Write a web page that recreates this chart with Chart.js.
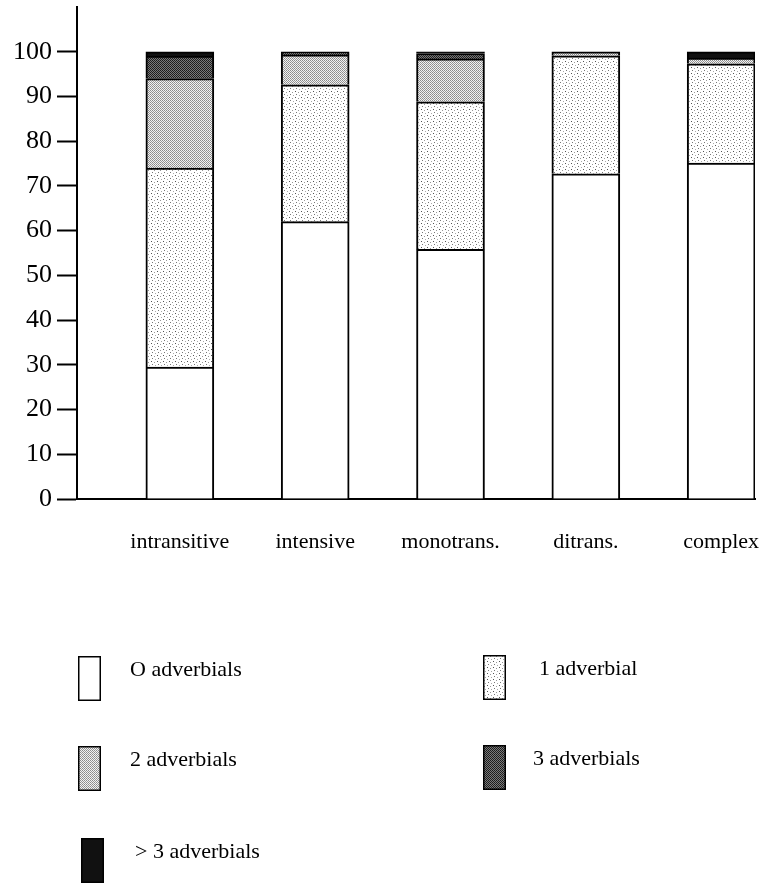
<!DOCTYPE html>
<html lang="en">
<head>
    <meta charset="UTF-8">
    <title>Adverbials per clause type</title>
    <script src="https://cdn.jsdelivr.net/npm/chart.js@4.4.0"></script>
    <style>
        html, body { margin: 0; padding: 0; background: #fff; }
        .chart-box { position: relative; width: 762px; height: 883px; }
    </style>
</head>
<body>
    <div class="chart-box">
        <canvas id="advChart"></canvas>
    </div>

    <script>
        // categories and series (percent of clauses)
        const categories = ['intransitive', 'intensive', 'monotrans.', 'ditrans.', 'complex'];
        const zeroAdv  = [29.5, 62.0, 55.8, 72.7, 75.1];
        const oneAdv   = [44.5, 30.6, 33.0, 26.4, 22.2];
        const twoAdv   = [20.0, 6.7, 9.6, 0.9, 1.3];
        const threeAdv = [5.0, 0.7, 1.2, 0, 0];
        const moreAdv  = [1.0, 0, 0.4, 0, 1.4];
        const seriesNames = ['O adverbials', '1 adverbial', '2 adverbials', '3 adverbials', '> 3 adverbials'];
        const yTicks = [0, 10, 20, 30, 40, 50, 60, 70, 80, 90, 100];

        const serif = '"Liberation Serif", "DejaVu Serif", serif';

        // stipple fills, built on small tiles
        function makePattern(size, bg, dots) {
            const c = document.createElement('canvas');
            c.width = size; c.height = size;
            const g = c.getContext('2d');
            g.fillStyle = bg;
            g.fillRect(0, 0, size, size);
            dots.forEach(([x, y, col]) => {
                g.fillStyle = col;
                g.fillRect(x, y, 1, 1);
            });
            return g.createPattern(c, 'repeat');
        }

        const fills = [
            '#ffffff',
            makePattern(6, '#ffffff', [[1, 1, '#555'], [4, 2, '#999'], [2, 4, '#777'], [5, 5, '#aaa']]),
            makePattern(2, '#f2f2f2', [[0, 0, '#8a8a8a'], [1, 1, '#9a9a9a']]),
            makePattern(2, '#7a7a7a', [[0, 0, '#1a1a1a'], [1, 1, '#222']]),
            '#111111'
        ];

        const toPoints = arr => arr.map((v, i) => ({ x: i, y: v }));
        const seriesData = [zeroAdv, oneAdv, twoAdv, threeAdv, moreAdv];

        const datasets = seriesData.map((arr, k) => ({
            label: seriesNames[k],
            data: toPoints(arr),
            backgroundColor: fills[k],
            borderColor: '#000',
            borderWidth: { top: 2, left: 2, right: 2, bottom: 0 },
            borderSkipped: false,
            barThickness: 68
        }));

        // legend drawn on the canvas in two columns below the plot
        const legendSlots = [
            { x: 78, y: 656, tx: 130 },
            { x: 483, y: 655, tx: 539 },
            { x: 78, y: 746, tx: 130 },
            { x: 483, y: 745, tx: 533 },
            { x: 81, y: 838, tx: 135 }
        ];
        const gridLegend = {
            id: 'gridLegend',
            afterDraw(chart) {
                const ctx = chart.ctx;
                ctx.save();
                chart.data.datasets.forEach((ds, i) => {
                    const s = legendSlots[i];
                    ctx.fillStyle = ds.backgroundColor;
                    ctx.fillRect(s.x, s.y, 23, 45);
                    ctx.strokeStyle = '#000';
                    ctx.lineWidth = 1.5;
                    ctx.strokeRect(s.x + 0.75, s.y + 0.75, 21.5, 43.5);
                    ctx.fillStyle = '#000';
                    ctx.font = '22px ' + serif;
                    ctx.textBaseline = 'middle';
                    ctx.textAlign = 'left';
                    ctx.fillText(ds.label, s.tx, s.y + 14);
                });
                ctx.restore();
            }
        };

        new Chart(document.getElementById('advChart'), {
            type: 'bar',
            data: { datasets },
            plugins: [gridLegend],
            options: {
                responsive: true,
                maintainAspectRatio: false,
                animation: false,
                layout: { padding: { top: 7, right: 7, left: 0, bottom: 0 } },
                plugins: {
                    legend: { display: false },
                    tooltip: { enabled: false }
                },
                scales: {
                    x: {
                        type: 'linear',
                        stacked: true,
                        offset: false,
                        min: -0.76,
                        max: 4.25,
                        afterBuildTicks: s => { s.ticks = categories.map((c, i) => ({ value: i })); },
                        afterFit: s => { s.height = 384; s.paddingLeft = 0; s.paddingRight = 0; },
                        grid: { display: false, drawTicks: false, offset: false },
                        border: { display: true, color: '#000', width: 2 },
                        ticks: {
                            autoSkip: false,
                            maxRotation: 0,
                            padding: 30,
                            color: '#000',
                            font: { family: serif, size: 22 },
                            callback: v => categories[v] ?? ''
                        }
                    },
                    y: {
                        stacked: true,
                        min: 0,
                        max: 110,
                        afterBuildTicks: s => { s.ticks = yTicks.map(v => ({ value: v })); },
                        afterFit: s => { s.width = 77; s.paddingTop = 0; s.paddingBottom = 0; },
                        grid: {
                            display: true,
                            drawOnChartArea: false,
                            drawTicks: true,
                            tickLength: 20,
                            tickColor: '#000',
                            tickWidth: 2
                        },
                        border: { display: true, color: '#000', width: 2 },
                        ticks: {
                            padding: 5,
                            color: '#000',
                            font: { family: serif, size: 26 }
                        }
                    }
                }
            }
        });
    </script>
</body>
</html>
